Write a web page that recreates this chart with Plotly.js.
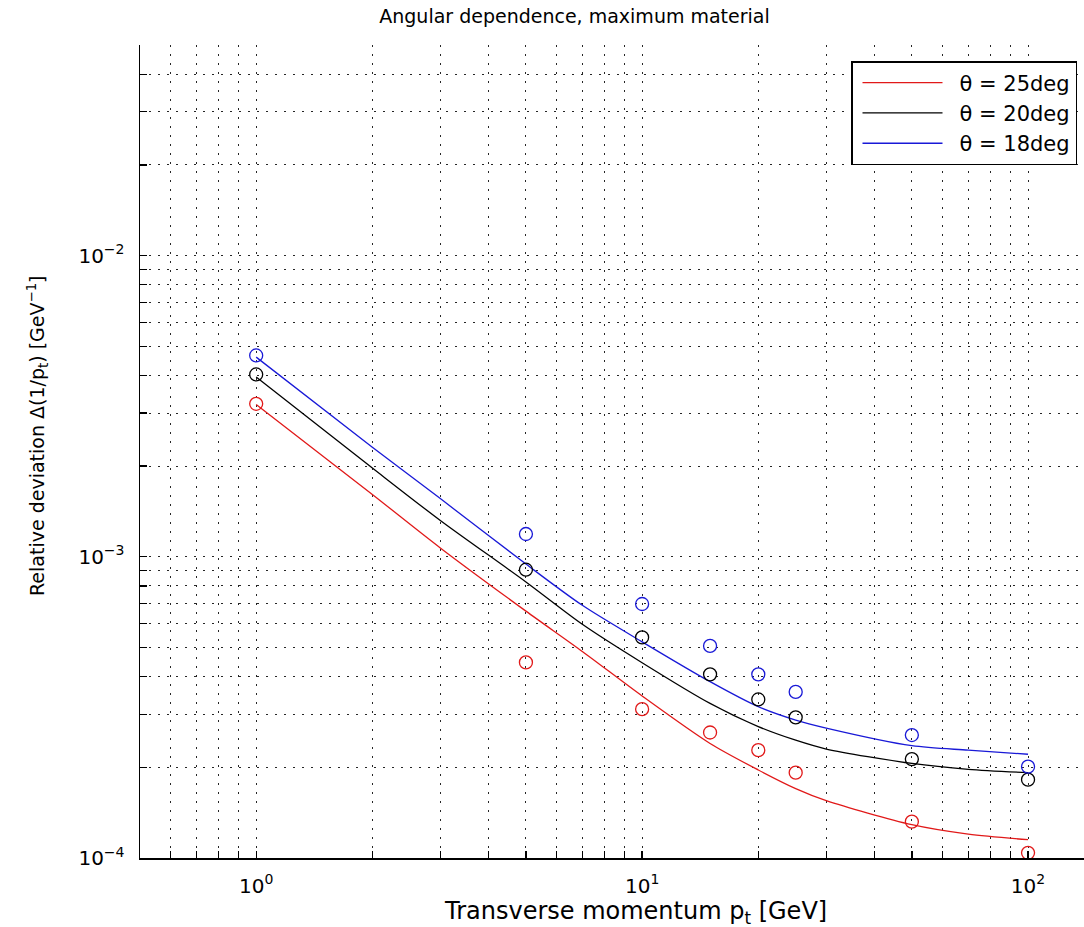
<!DOCTYPE html>
<html>
<head>
<meta charset="utf-8">
<script src="https://cdn.plot.ly/plotly-3.0.1.min.js"></script>
<style>
html,body{margin:0;padding:0;background:#fff;overflow:hidden;}
#chart{width:1084px;height:927px;}
</style>
</head>
<body>
<div id="chart"></div>
<script>
// measured points (circles)
const ptPoints = [1, 5, 10, 15, 20, 25, 50, 100];
const dev25 = [3.22e-3, 4.46e-4, 3.12e-4, 2.61e-4, 2.28e-4, 1.92e-4, 1.32e-4, 1.04e-4];
const dev20 = [4.03e-3, 9.06e-4, 5.40e-4, 4.07e-4, 3.36e-4, 2.93e-4, 2.13e-4, 1.82e-4];
const dev18 = [4.66e-3, 1.19e-3, 6.97e-4, 5.06e-4, 4.07e-4, 3.56e-4, 2.56e-4, 2.01e-4];

// fitted curves
const ptFit = [1, 2, 3, 5, 7, 10, 15, 20, 25, 30, 50, 70, 100];
const fit25 = [3.20e-3, 1.61e-3, 1.07e-3, 6.60e-4, 4.85e-4, 3.45e-4, 2.40e-4, 1.96e-4, 1.70e-4, 1.55e-4, 1.29e-4, 1.20e-4, 1.15e-4];
const fit20 = [3.95e-3, 1.97e-3, 1.32e-3, 8.25e-4, 5.97e-4, 4.45e-4, 3.26e-4, 2.73e-4, 2.46e-4, 2.30e-4, 2.06e-4, 1.97e-4, 1.92e-4];
const fit18 = [4.60e-3, 2.31e-3, 1.56e-3, 9.46e-4, 6.90e-4, 5.22e-4, 3.85e-4, 3.18e-4, 2.87e-4, 2.70e-4, 2.36e-4, 2.28e-4, 2.21e-4];

const seriesNames = ['\u03B8 = 25deg', '\u03B8 = 20deg', '\u03B8 = 18deg'];
const seriesColors = ['rgb(225,25,25)', 'rgb(0,0,0)', 'rgb(25,25,215)'];

// tick values
const xMajorVals = [1, 10, 100];
const xMajorText = ['10<sup>0</sup>', '10<sup>1</sup>', '10<sup>2</sup>'];
const xMinorVals = [0.5,0.6,0.7,0.8,0.9,2,3,4,5,6,7,8,9,20,30,40,50,60,70,80,90];
const yMajorVals = [1e-4, 1e-3, 1e-2];
const yMajorText = ['10<sup>\u22124</sup>', '10<sup>\u22123</sup>', '10<sup>\u22122</sup>'];
const yMinorVals = [2e-4,3e-4,4e-4,5e-4,6e-4,7e-4,8e-4,9e-4,2e-3,3e-3,4e-3,5e-3,6e-3,7e-3,8e-3,9e-3,2e-2,3e-2,4e-2,5e-2];

const fits = [fit25, fit20, fit18];
const devs = [dev25, dev20, dev18];

const traces = [];
for (let i = 0; i < 3; i++) {
  traces.push({
    x: ptFit, y: fits[i], type: 'scatter', mode: 'lines', name: seriesNames[i],
    line: {color: seriesColors[i], width: 1.3, shape: 'spline', smoothing: 0.8}
  });
}
for (let i = 0; i < 3; i++) {
  traces.push({
    x: ptPoints, y: devs[i], type: 'scatter', mode: 'markers', showlegend: false,
    marker: {symbol: 'circle-open', size: 13, color: seriesColors[i], line: {width: 1.3}}
  });
}

const FONT = 'DejaVu Sans, Arial, sans-serif';
const plotW = 1084, plotH = 927, mL = 140, mR = 0, mT = 45, mB = 69;
const GRID = {color: 'rgba(0,0,0,0.85)', dash: '2px,7px'};

function axisBase(majorVals, majorText, minorVals, standoff) {
  return {
    type: 'log', tickmode: 'array', tickvals: majorVals, ticktext: majorText,
    ticks: 'inside', ticklen: 7, tickwidth: 1.3, tickcolor: '#000',
    showline: true, linecolor: '#000', linewidth: 1.5, mirror: false,
    showgrid: true, gridcolor: GRID.color, gridwidth: 1, griddash: GRID.dash,
    zeroline: false, tickfont: {size: 20, family: FONT, color: '#000'}, ticklabelstandoff: standoff,
    minor: {tickmode: 'array', tickvals: minorVals, ticks: 'inside', ticklen: 7, tickwidth: 1.3, tickcolor: '#000',
            showgrid: true, gridcolor: GRID.color, gridwidth: 1, griddash: GRID.dash}
  };
}

const xaxis = axisBase(xMajorVals, xMajorText, xMinorVals, 9);
xaxis.range = [Math.log10(0.5), 2.145];
const yaxis = axisBase(yMajorVals, yMajorText, yMinorVals, 10);
yaxis.range = [-4, Math.log10(0.05)];

const layout = {
  width: plotW, height: plotH,
  margin: {l: mL, r: mR, t: mT, b: mB, pad: 0},
  paper_bgcolor: '#fff', plot_bgcolor: '#fff',
  font: {family: FONT, color: '#000', size: 20},
  showlegend: true,
  title: {text: 'Angular dependence, maximum material', font: {family: FONT, size: 19, color: '#000'},
          x: 0.53, xref: 'container', xanchor: 'center', y: 1 - 16/927, yref: 'container', yanchor: 'middle'},
  xaxis: xaxis,
  yaxis: yaxis,
  legend: {
    x: (1077 - mL) / (plotW - mL - mR), xanchor: 'right', xref: 'paper',
    y: (858 - 61) / (858 - 45), yanchor: 'top', yref: 'paper',
    bgcolor: '#fff', bordercolor: '#000', borderwidth: 1.5,
    font: {family: FONT, size: 21, color: '#000'},
    itemwidth: 97, tracegroupgap: 0
  },
  annotations: [
    {text: 'Transverse momentum p<sub>t</sub> [GeV]', xref: 'paper', yref: 'paper',
     x: (635 - mL) / (plotW - mL - mR), y: -(912 - 858) / (858 - 45), xanchor: 'center', yanchor: 'middle',
     showarrow: false, font: {family: FONT, size: 24, color: '#000'}},
    {text: 'Relative deviation \u0394(1/p<sub>t</sub>) [GeV<sup>\u22121</sup>]', xref: 'paper', yref: 'paper',
     x: -(140 - 37) / (plotW - mL - mR), y: (858 - 436) / (858 - 45), xanchor: 'center', yanchor: 'middle',
     textangle: -90, showarrow: false, font: {family: FONT, size: 19, color: '#000'}}
  ]
};

Plotly.newPlot('chart', traces, layout, {displayModeBar: false, staticPlot: true}).then(function () {
  // lengthen the legend line samples to match the reference
  document.querySelectorAll('.legend .legendlines path').forEach(function (p) {
    p.setAttribute('d', 'M10,0h80');
  });
});
</script>
</body>
</html>
